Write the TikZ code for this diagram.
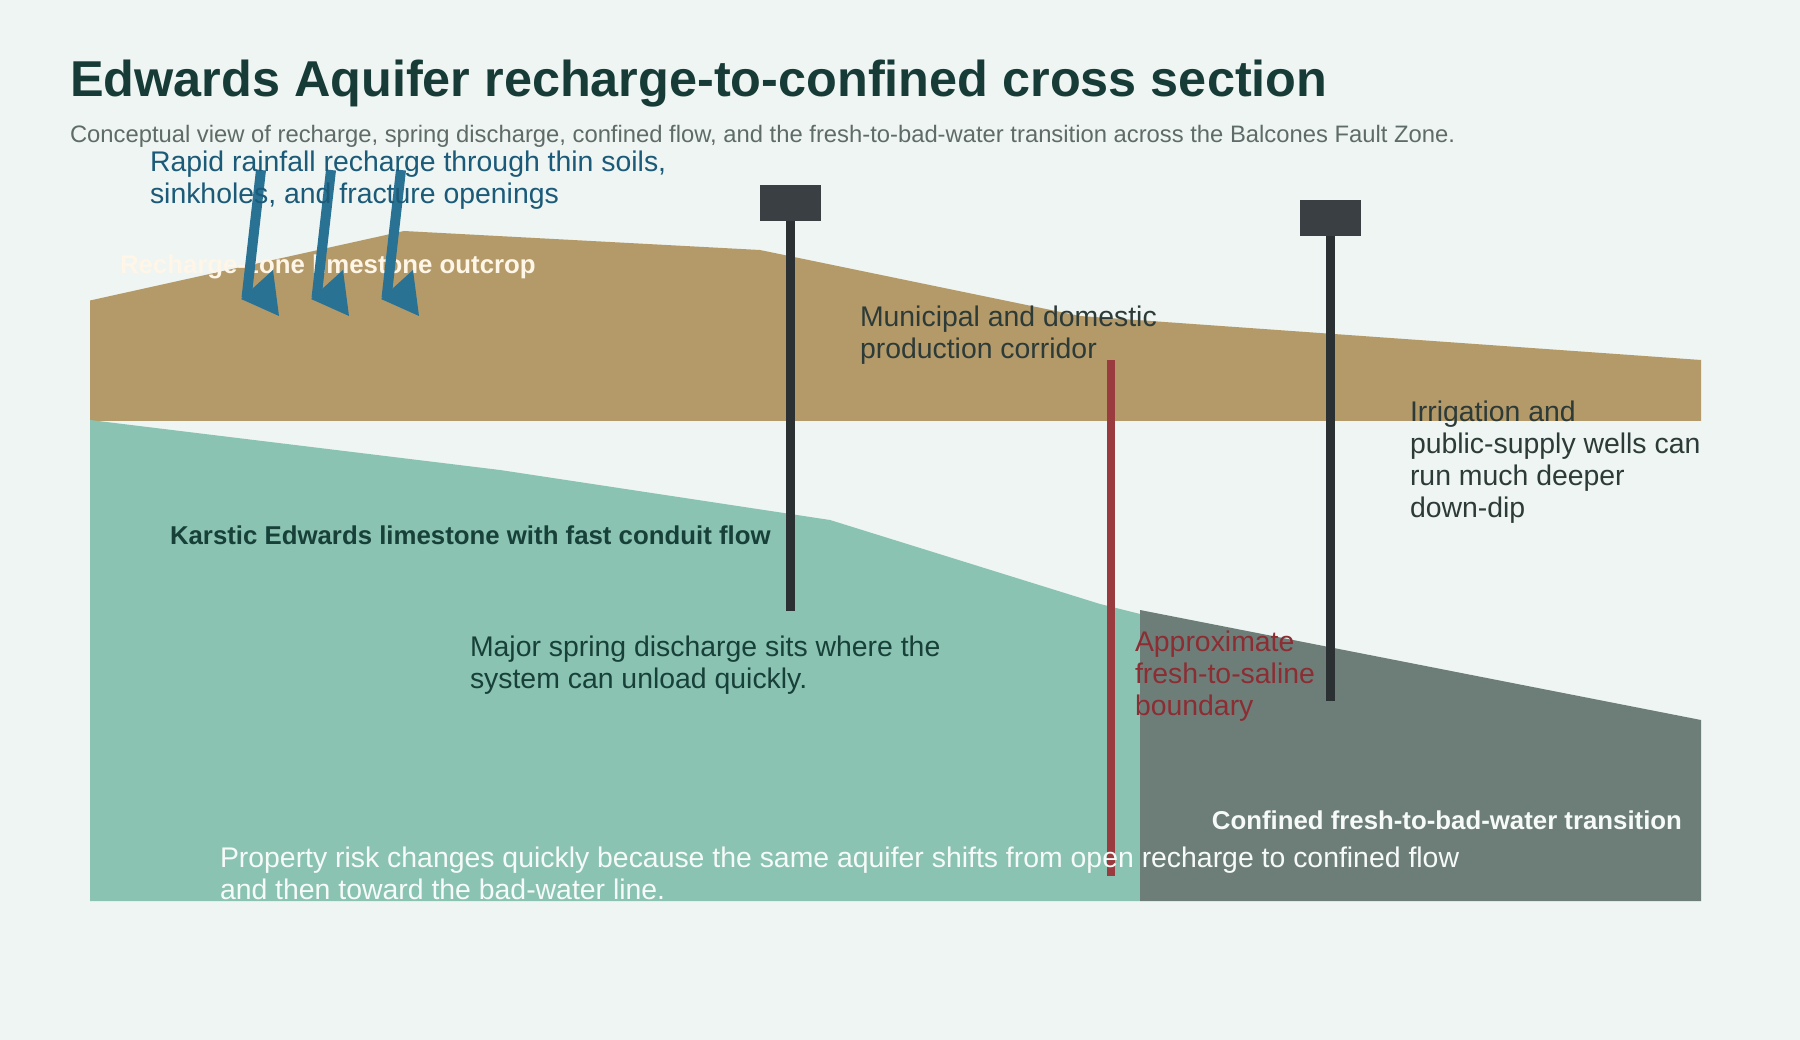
\documentclass[tikz,border=0pt]{standalone}
\usepackage{fontspec}
\setmainfont{Liberation Sans}
\definecolor{paper}{HTML}{EEF5F2}
\definecolor{outcrop}{HTML}{B59A69}
\definecolor{karst}{HTML}{8AC3B2}
\definecolor{confined}{HTML}{6D7E79}
\definecolor{wellshaft}{HTML}{2B3033}
\definecolor{wellcap}{HTML}{3A3F43}
\definecolor{salineline}{HTML}{9A3B3F}
\definecolor{rain}{HTML}{2A7294}
\definecolor{titleink}{HTML}{173C37}
\definecolor{subink}{HTML}{5F6B68}
\definecolor{rainink}{HTML}{1B5A78}
\definecolor{noteink}{HTML}{2C3A38}
\definecolor{springink}{HTML}{174038}
\definecolor{salineink}{HTML}{8C2D33}
\definecolor{creamink}{HTML}{FFF6E8}
\definecolor{paleink}{HTML}{F6FAF8}
\tikzset{
  txt/.style={inner sep=0pt,outer sep=0pt,anchor=base west,align=left},
  note/.style={txt,font=\fontsize{28.4}{32}\selectfont},
  tag/.style={txt,font=\fontsize{25.8}{30}\selectfont\bfseries},
  wellline/.style={draw=wellshaft,line width=9pt},
  wellhead/.style={fill=wellcap,draw=none,minimum width=61pt,minimum height=36pt,inner sep=0pt,outer sep=0pt},
  rainshaft/.style={draw=rain,line width=10pt},
  rainhead/.style={fill=rain,draw=none},
}
\begin{document}
\begin{tikzpicture}[x=1pt,y=-1pt]
\useasboundingbox (0,0) rectangle (1800,1040);
\fill[paper] (0,0) rectangle (1800,1040);

% Geological layers
\fill[outcrop] (90,300.5) -- (404,231) -- (760,250) -- (1080,316) -- (1701,360) -- (1701,421) -- (90,421) -- cycle;
\fill[karst] (90,420) -- (500,470) -- (830,520) -- (1100,604) -- (1140,614) -- (1140,901) -- (90,901) -- cycle;
\fill[confined] (1140,610) -- (1701,720) -- (1701,901) -- (1140,901) -- cycle;

% Layer tags
\node[tag,text=creamink] (outcroptag) at (120,274) {Recharge-zone limestone outcrop};
\node[tag,text=springink] (karsttag) at (170,544) {Karstic Edwards limestone with fast conduit flow};
\node[tag,text=paleink,anchor=base east] (confinedtag) at (1682,829) {Confined fresh-to-bad-water transition};

% Rainfall recharge arrows
\foreach \n/\dx in {a/0,b/70,c/140}{
  \coordinate (top\n) at (261+\dx,170);
  \coordinate (foot\n) at (246.5+\dx,298);
  \draw[rainshaft] (top\n) -- (foot\n);
  \fill[rainhead] (241+\dx,299) -- (279+\dx,316) -- (273+\dx,270) -- cycle;
}

% Production wells
\node[wellhead] (capa) at (790.5,203) {};
\coordinate (toea) at (790.5,611);
\draw[wellline] (capa.south) -- (toea);
\node[wellhead] (capb) at (1330.5,218) {};
\coordinate (toeb) at (1330.5,701);
\draw[wellline] (capb.south) -- (toeb);

% Fresh-to-saline boundary
\coordinate (salinetop) at (1110.5,360);
\coordinate (salinefoot) at (1110.5,876);
\draw[draw=salineline,line width=8pt] (salinetop) -- (salinefoot);

% Title block
\node[txt,font=\fontsize{50.4}{56}\selectfont\bfseries,text=titleink] (title) at (70,96.5) {Edwards Aquifer recharge-to-confined cross section};
\node[txt,font=\fontsize{23.8}{28}\selectfont,text=subink] (subtitle) at (70,142.5) {Conceptual view of recharge, spring discharge, confined flow, and the fresh-to-bad-water transition across the Balcones Fault Zone.};

% Annotations
\node[note,text=rainink] (rainnote) at (150,204) {Rapid rainfall recharge through thin soils,\\sinkholes, and fracture openings};
\node[note,text=noteink] (wellnote) at (860,359) {Municipal and domestic\\production corridor};
\node[note,text=noteink] (deepnote) at (1410,517.5) {Irrigation and\\public-supply wells can\\run much deeper\\down-dip};
\node[note,text=springink] (springnote) at (470,688.5) {Major spring discharge sits where the\\system can unload quickly.};
\node[note,text=salineink] (salinenote) at (1135,715.5) {Approximate\\fresh-to-saline\\boundary};
\node[note,text=paleink] (risknote) at (220,899) {Property risk changes quickly because the same aquifer shifts from open recharge to confined flow\\and then toward the bad-water line.};
\end{tikzpicture}
\end{document}
